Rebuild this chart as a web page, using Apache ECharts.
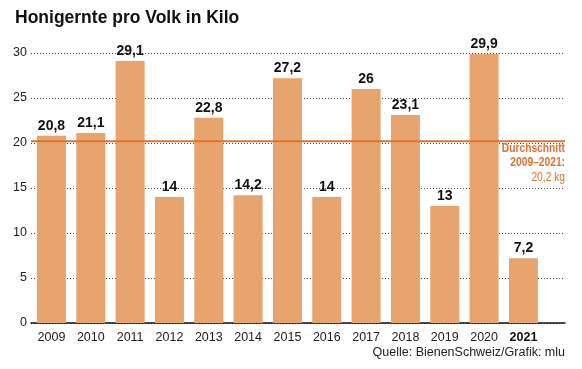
<!DOCTYPE html>
<html><head><meta charset="utf-8">
<script src="https://cdn.jsdelivr.net/npm/echarts@6/dist/echarts.min.js"></script>
<style>html,body{margin:0;padding:0;background:#fff}#c{width:582px;height:369px}</style>
</head><body><div id="c"></div>
<script>
const years = ['2009','2010','2011','2012','2013','2014','2015','2016','2017','2018','2019','2020','2021'];
const honey = [20.8, 21.1, 29.1, 14, 22.8, 14.2, 27.2, 14, 26, 23.1, 13, 29.9, 7.2];
const average = 20.2;
const yTicks = [0, 5, 10, 15, 20, 25, 30];
const title = 'Honigernte pro Volk in Kilo';
const source = 'Quelle: BienenSchweiz/Grafik: mlu';
const avgLabel = ['Durchschnitt', '2009–2021:', '20,2 kg'];

const fmt = v => String(v).replace('.', ',');
const FONT = '"Liberation Sans", Arial, sans-serif';
const BAR = '#E8A46E';
const AVG = '#E07232';

const chart = echarts.init(document.getElementById('c'), null, {renderer: 'canvas'});
chart.setOption({
  animation: false,
  backgroundColor: '#fff',
  textStyle: {fontFamily: FONT},
  grid: [
    {left: 31, right: 17, top: 53, height: 270},
    {left: 31.8, width: 511.3, top: 53, height: 270}
  ],
  xAxis: [
    {gridIndex: 0, type: 'value', min: 0, max: 1, axisLabel: {show: false}, axisTick: {show: false},
     splitLine: {show: false}, axisLine: {show: true, onZero: false, lineStyle: {color: '#111', width: 1.5}}},
    {gridIndex: 1, type: 'category', data: years, axisLine: {show: false}, axisTick: {show: false},
     axisLabel: {interval: 0, margin: 8, fontSize: 12.5, color: '#222', fontFamily: FONT,
       formatter: (v, i) => i === years.length - 1 ? '{b|' + v + '}' : v,
       rich: {b: {fontWeight: 'bold', fontSize: 12.5, color: '#111', fontFamily: FONT}}}}
  ],
  yAxis: [
    {gridIndex: 0, type: 'value', min: yTicks[0], max: yTicks[yTicks.length - 1], interval: 5,
     axisLine: {show: false}, axisTick: {show: false},
     axisLabel: {margin: 4, fontSize: 12.5, color: '#222', fontFamily: FONT},
     splitLine: {show: true, lineStyle: {type: [1, 2], color: '#444', width: 1}}},
    {gridIndex: 1, type: 'value', min: 0, max: 30, show: false}
  ],
  series: [
    {type: 'bar', xAxisIndex: 1, yAxisIndex: 1, data: honey, barWidth: 29, z: 2,
     itemStyle: {color: BAR},
     label: {show: true, position: 'top', distance: 3, fontSize: 14, fontWeight: 'bold', color: '#111',
       fontFamily: FONT, formatter: p => fmt(p.value)}},
    {type: 'line', xAxisIndex: 0, yAxisIndex: 0, data: [[0, average], [1, average]], symbol: 'none', z: 5,
     lineStyle: {color: AVG, width: 2}, silent: true}
  ],
  graphic: [
    {type: 'text', left: 15, top: 9, z: 100, style: {text: title, font: 'bold 17.5px ' + FONT, fill: '#111'}},
    {type: 'text', right: 17, top: 346, z: 100, style: {text: source, font: '12.5px ' + FONT, fill: '#222'}},
    {type: 'text', x: 565, y: 141, scaleX: 0.82, z: 100, style: {
      text: '{b|' + avgLabel[0] + '}\n{b|' + avgLabel[1] + '}\n{n|' + avgLabel[2] + '}',
      align: 'right',
      rich: {
        b: {font: 'bold 12.5px ' + FONT, fill: AVG, color: AVG, lineHeight: 14.5, align: 'right'},
        n: {font: '12.5px ' + FONT, fill: AVG, color: AVG, lineHeight: 14.5, align: 'right'}
      }}}
  ]
});
</script></body></html>
